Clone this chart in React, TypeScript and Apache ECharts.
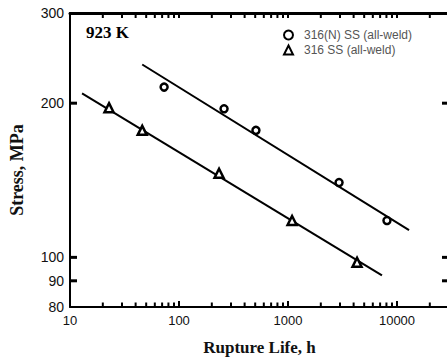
import React, { useEffect, useRef } from "react";
import * as echarts from "echarts";

const circleName = "316(N) SS (all-weld)";
const triName = "316 SS (all-weld)";
const circleLife = [73, 259, 508, 2940, 8090];
const circleStress = [215, 195, 177, 140, 118];
const triLife = [22.8, 46, 233, 1090, 4300];
const triStress = [196, 177, 146, 118, 97.8];
const circleFitLife = [46, 12900];
const circleFitStress = [238, 113];
const triFitLife = [12.9, 7280];
const triFitStress = [209, 92.2];
const xRange = [10, 30000];
const yRange = [80, 300];
const xLabels = [10, 100, 1000, 10000];
const xMinorTicks = [20, 30, 40, 50, 60, 70, 80, 90, 200, 300, 400, 500, 600, 700, 800, 900, 2000, 3000, 4000, 5000, 6000, 7000, 8000, 9000, 20000];
const xMajorTicks = [100, 1000, 10000];
const yLabels = [80, 90, 100, 200, 300];
const yTicks = [90, 100, 200];

const zip = (a: number[], b: number[]) => a.map((v, i) => [v, b[i]]);

export default function App() {
  const ref = useRef<HTMLDivElement>(null);
  useEffect(() => {
    document.body.style.margin = "0";
    document.body.style.overflow = "hidden";
    const chart = echarts.init(ref.current!, null, { renderer: "svg" });
    const axisLine = { show: true, onZero: false, lineStyle: { color: "#000", width: 2 } };
    const labelFont = { fontFamily: "Liberation Sans, Arial, sans-serif", color: "#111" };
    const nameFont = { fontFamily: "Liberation Serif, Times New Roman, serif", fontWeight: "bold", color: "#111" };

    const xTickData = xMinorTicks.map((v) => [v, 100, 4.5]).concat(xMajorTicks.map((v) => [v, 100, 6]));
    const yTickData = yTicks.map((v) => [100, v, 7]);

    chart.setOption({
      animation: false,
      backgroundColor: "#fff",
      grid: { left: 70, top: 13, right: 11, bottom: 51, outerBoundsMode: "none" },
      legend: {
        left: 278,
        top: 24,
        orient: "vertical",
        itemGap: 3,
        itemWidth: 9,
        itemHeight: 9,
        data: [circleName, triName],
        textStyle: { fontSize: 12, color: "#555", padding: [0, 0, 0, 6], fontFamily: "Liberation Sans, Arial, sans-serif" },
      },
      graphic: [
        {
          type: "text",
          left: 86,
          top: 24,
          style: { text: "923 K", font: "bold 17px 'Liberation Serif', 'Times New Roman', serif", fill: "#000" },
        },
        {
          type: "text",
          x: 17,
          y: 170,
          rotation: Math.PI / 2,
          style: {
            text: "Stress, MPa",
            font: "bold 18px 'Liberation Serif', 'Times New Roman', serif",
            fill: "#111",
            align: "center",
            verticalAlign: "middle",
          },
        },
      ],
      xAxis: [
        {
          type: "log",
          min: xRange[0],
          max: xRange[1],
          position: "bottom",
          name: "Rupture Life, h",
          nameLocation: "middle",
          nameGap: 32,
          nameTextStyle: { ...nameFont, fontSize: 17 },
          axisLine,
          axisTick: { show: false },
          splitLine: { show: false },
          axisLabel: { show: true, customValues: xLabels, fontSize: 13, margin: 7, formatter: (v: number) => String(v), ...labelFont },
        },
        {
          type: "log",
          min: xRange[0],
          max: xRange[1],
          position: "top",
          axisLine: { show: true, onZero: false, lineStyle: { color: "#000", width: 3 } },
          axisTick: { show: false },
          splitLine: { show: false },
          axisLabel: { show: false },
        },
      ],
      yAxis: [
        {
          type: "log",
          min: yRange[0],
          max: yRange[1],
          position: "left",
          axisLine,
          axisTick: { show: false },
          splitLine: { show: false },
          axisLabel: { show: true, customValues: yLabels, fontSize: 14, margin: 6, ...labelFont },
        },
        {
          type: "log",
          min: yRange[0],
          max: yRange[1],
          position: "right",
          axisLine,
          axisTick: { show: false },
          splitLine: { show: false },
          axisLabel: { show: false },
        },
      ],
      series: [
        {
          type: "custom",
          silent: true,
          clip: false,
          data: xTickData,
          encode: { x: 0, y: 1 },
          renderItem: (params: any, api: any) => {
            const v = api.value(0);
            const len = api.value(2);
            const b = api.coord([v, yRange[0]]);
            const t = api.coord([v, yRange[1]]);
            return {
              type: "group",
              children: [
                { type: "rect", shape: { x: b[0] - 1, y: b[1] - len, width: 2, height: len }, style: { fill: "#000" } },
                { type: "rect", shape: { x: t[0] - 1, y: t[1], width: 2, height: 5 }, style: { fill: "#000" } },
              ],
            };
          },
          z: 5,
        },
        {
          type: "custom",
          silent: true,
          clip: false,
          data: yTickData,
          encode: { x: 0, y: 1 },
          renderItem: (params: any, api: any) => {
            const v = api.value(1);
            const len = api.value(2);
            const l = api.coord([xRange[0], v]);
            const r = api.coord([xRange[1], v]);
            return {
              type: "group",
              children: [
                { type: "rect", shape: { x: l[0], y: l[1] - 1.5, width: len, height: 3 }, style: { fill: "#000" } },
                { type: "rect", shape: { x: r[0] - len, y: r[1] - 1.5, width: len, height: 3 }, style: { fill: "#000" } },
              ],
            };
          },
          z: 5,
        },
        {
          type: "line",
          data: zip(circleFitLife, circleFitStress),
          symbol: "none",
          lineStyle: { color: "#000", width: 2 },
          z: 1,
        },
        {
          type: "line",
          data: zip(triFitLife, triFitStress),
          symbol: "none",
          lineStyle: { color: "#000", width: 2 },
          z: 1,
        },
        {
          name: circleName,
          type: "scatter",
          data: zip(circleLife, circleStress),
          symbol: "circle",
          symbolSize: 7,
          itemStyle: { color: "#fff", borderColor: "#000", borderWidth: 2.5, opacity: 1 },
          z: 3,
        },
        {
          name: triName,
          type: "scatter",
          data: zip(triLife, triStress),
          symbol: "triangle",
          symbolSize: 9,
          itemStyle: { color: "#fff", borderColor: "#000", borderWidth: 2.5, opacity: 1 },
          z: 3,
        },
      ],
    });
    return () => chart.dispose();
  }, []);
  return <div ref={ref} style={{ position: "fixed", left: 0, top: 0, width: 460, height: 358 }} />;
}
